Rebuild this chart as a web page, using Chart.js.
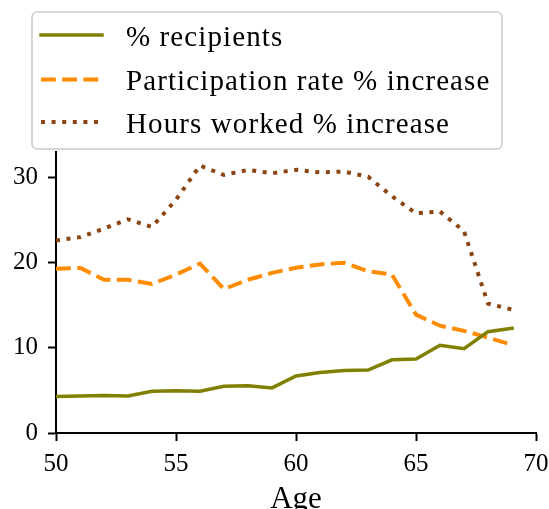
<!DOCTYPE html>
<html>
<head>
<meta charset="utf-8">
<script src="https://cdn.jsdelivr.net/npm/chart.js@4.4.0/dist/chart.umd.min.js"></script>
<style>
  html, body { margin: 0; padding: 0; background: #fff; }
  #wrap { width: 549px; height: 509px; }
</style>
</head>
<body>
<div id="wrap"><canvas id="grafico" width="549" height="509"></canvas></div>
<script>
// Datos
const edades = [50, 51, 52, 53, 54, 55, 56, 57, 58, 59, 60, 61, 62, 63, 64, 65, 66, 67, 68, 69];
const recipients = [4.3, 4.35, 4.4, 4.35, 4.9, 4.95, 4.9, 5.5, 5.55, 5.3, 6.7, 7.1, 7.35, 7.4, 8.6, 8.7, 10.3, 9.9, 11.9, 12.3];
const participacion = [19.3, 19.4, 18.0, 18.0, 17.5, 18.6, 19.9, 16.9, 18.0, 18.8, 19.4, 19.8, 20.0, 19.0, 18.6, 13.9, 12.6, 12.0, 11.2, 10.35];
const horas = [22.6, 23.0, 24.0, 25.1, 24.2, 27.4, 31.4, 30.3, 30.9, 30.5, 30.9, 30.6, 30.7, 30.1, 27.8, 25.8, 26.0, 23.7, 15.2, 14.5];
const ticksX = [50, 55, 60, 65, 70];
const ticksY = [0, 10, 20, 30];

const fuente = '"Liberation Serif", "DejaVu Serif", serif';

const puntos = (vals) => vals.map((v, i) => ({ x: edades[i], y: v }));

// Leyenda dibujada a mano dentro de una caja redondeada
const leyendaCaja = {
    id: 'leyendaCaja',
    afterDraw(chart) {
        const ctx = chart.ctx;
        ctx.save();
        const x0 = 32, y0 = 12, w = 470, h = 137, r = 5;
        ctx.beginPath();
        ctx.moveTo(x0 + r, y0);
        ctx.arcTo(x0 + w, y0, x0 + w, y0 + h, r);
        ctx.arcTo(x0 + w, y0 + h, x0, y0 + h, r);
        ctx.arcTo(x0, y0 + h, x0, y0, r);
        ctx.arcTo(x0, y0, x0 + w, y0, r);
        ctx.closePath();
        ctx.fillStyle = 'rgba(255,255,255,0.8)';
        ctx.fill();
        ctx.lineWidth = 1.5;
        ctx.strokeStyle = '#cccccc';
        ctx.stroke();

        const filas = [35, 79.5, 122];
        chart.data.datasets.forEach((ds, i) => {
            const y = filas[i];
            ctx.beginPath();
            ctx.setLineDash(ds.borderDash || []);
            ctx.lineCap = ds.borderCapStyle || 'butt';
            ctx.lineWidth = ds.borderWidth;
            ctx.strokeStyle = ds.borderColor;
            ctx.moveTo(41, y);
            ctx.lineTo(102, y);
            ctx.stroke();
            ctx.setLineDash([]);
            ctx.fillStyle = '#000';
            ctx.font = '29px ' + fuente;
            ctx.letterSpacing = '1.1px';
            ctx.textBaseline = 'alphabetic';
            ctx.textAlign = 'left';
            ctx.fillText(ds.label, 126, y + 10.5);
            ctx.letterSpacing = '0px';
        });
        ctx.restore();
    }
};

new Chart(document.getElementById('grafico'), {
    type: 'line',
    data: {
        datasets: [
            {
                label: '% recipients',
                data: puntos(recipients),
                borderColor: '#808000',
                borderWidth: 3.5,
                borderCapStyle: 'square'
            },
            {
                label: 'Participation rate % increase',
                data: puntos(participacion),
                borderColor: '#ff8c00',
                borderWidth: 4,
                borderDash: [14.8, 6.4]
            },
            {
                label: 'Hours worked % increase',
                data: puntos(horas),
                borderColor: '#8b4513',
                borderWidth: 4,
                borderDash: [4, 6.6]
            }
        ]
    },
    options: {
        responsive: false,
        animation: false,
        devicePixelRatio: 1,
        layout: { padding: { top: 152, right: 13, left: 0, bottom: 0 } },
        elements: {
            point: { radius: 0, hoverRadius: 0 },
            line: { tension: 0, fill: false }
        },
        plugins: {
            legend: { display: false },
            tooltip: { enabled: false }
        },
        scales: {
            x: {
                type: 'linear',
                min: 50,
                max: 70,
                afterBuildTicks: (axis) => { axis.ticks = ticksX.map(v => ({ value: v })); },
                afterFit: (axis) => {
                    axis.height = 76;
                    axis.paddingLeft = 0;
                    axis.paddingRight = 0;
                },
                grid: { drawOnChartArea: false, drawTicks: true, tickLength: 8, tickWidth: 2, tickColor: '#000' },
                border: { display: true, color: '#000', width: 2 },
                ticks: { color: '#000', padding: 8, maxRotation: 0, font: { family: fuente, size: 25 } },
                title: {
                    display: true,
                    text: 'Age',
                    color: '#000',
                    padding: { top: 0, bottom: 0 },
                    font: { family: fuente, size: 31, lineHeight: 0.58 }
                }
            },
            y: {
                type: 'linear',
                min: 0,
                max: 33,
                afterBuildTicks: (axis) => { axis.ticks = ticksY.map(v => ({ value: v })); },
                afterFit: (axis) => {
                    axis.width = 56;
                    axis.paddingTop = 0;
                    axis.paddingBottom = 0;
                },
                grid: { drawOnChartArea: false, drawTicks: true, tickLength: 8, tickWidth: 2, tickColor: '#000' },
                border: { display: true, color: '#000', width: 2 },
                ticks: { color: '#000', padding: 10, font: { family: fuente, size: 25 } }
            }
        }
    },
    plugins: [leyendaCaja]
});
</script>
</body>
</html>
